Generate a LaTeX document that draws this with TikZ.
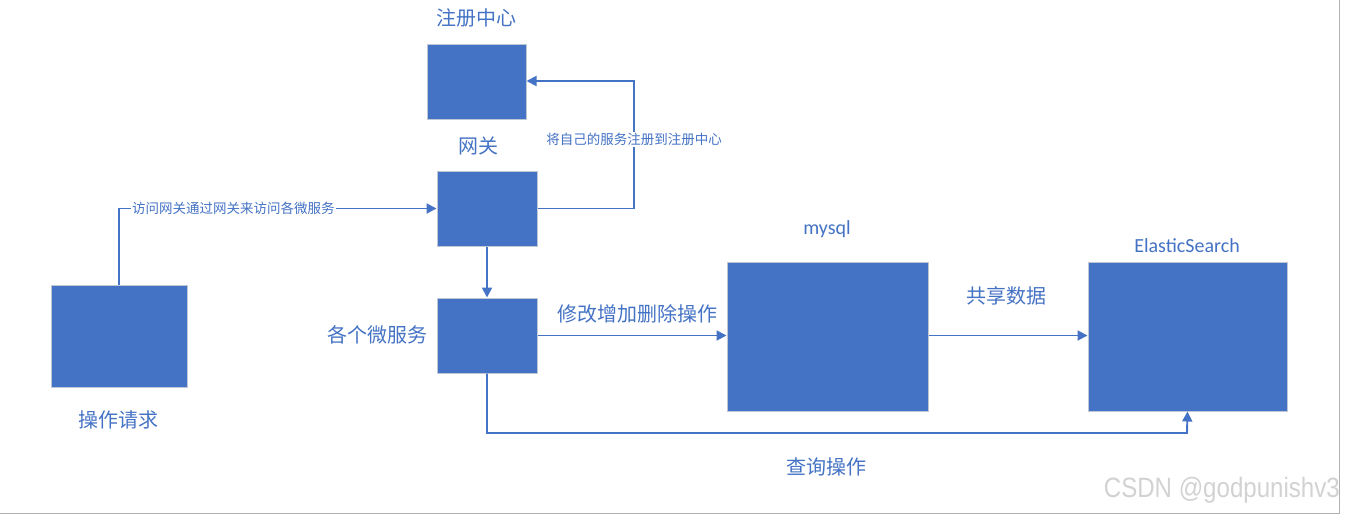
\documentclass[tikz,border=0pt]{standalone}
\usepackage{fontspec}
\setmainfont{Carlito}
\newfontfamily\cjk{Noto Sans CJK SC}
\newfontfamily\wm{Liberation Sans}
\usetikzlibrary{arrows.meta}
\definecolor{blu}{HTML}{4472C4}
\definecolor{edge}{HTML}{BFC7D5}
\begin{document}
\begin{tikzpicture}[x=1pt,y=-1pt,
  box/.style={draw=edge,line width=1pt,fill=blu,inner sep=0pt},
  conn/.style={draw=blu,line width=1.9pt,-{Triangle[length=10pt,width=10pt]}},
  big/.style={text=blu,font=\cjk\fontsize{20}{22}\selectfont,inner sep=0pt},
  lat/.style={text=blu,font=\fontsize{20}{22}\selectfont,inner sep=0pt},
  small/.style={text=blu,font=\cjk\fontsize{13.5}{15}\selectfont,fill=white,inner sep=1.5pt}]
\useasboundingbox (0,0) rectangle (1345,515);
\draw[gray!60,line width=1pt] (1339,0) -- (1339,513) -- (0,513);
% boxes
\node[box,minimum width=136pt,minimum height=102pt] (req) at (119,336) {};
\node[box,minimum width=99pt,minimum height=75pt] (reg) at (476.5,81.5) {};
\node[box,minimum width=100pt,minimum height=75pt] (gw) at (487,208.5) {};
\node[box,minimum width=100pt,minimum height=75pt] (ms) at (487,335.5) {};
\node[box,minimum width=201pt,minimum height=149pt] (db) at (827.5,336.5) {};
\node[box,minimum width=199pt,minimum height=149pt] (es) at (1187.5,336.5) {};
% labels
\node[big] (lreq) at (118,420) {操作请求};
\node[big] (lreg) at (476,18) {注册中心};
\node[big] (lgw) at (478,146) {网关};
\node[big] (lms) at (377,335) {各个微服务};
\node[lat] (ldb) at (827,229) {mysql};
\node[lat] (les) at (1187,246) {ElasticSearch};
% connectors
\coordinate (c1) at (req.north |- gw.west);
\draw[conn] (req.north) -- (c1) -- node[small,pos=0.36] (t1) {访问网关通过网关来访问各微服务} (gw.west);
\coordinate (c2) at (634,208.5);
\coordinate (c3) at (634,81);
\draw[conn] (gw.east) -- (c2) -- node[small,pos=0.54] (t2) {将自己的服务注册到注册中心} (c3) -- (reg.east |- c3);
\draw[conn] (gw.south) -- (ms.north);
\draw[conn] (ms.east) -- (db.west |- ms.east);
\node[big] (t3) at (637,314) {修改增加删除操作};
\draw[conn] (db.east |- ms.east) -- (es.west |- ms.east);
\node[big] (t4) at (1006,296) {共享数据};
\coordinate (c4) at (487,433);
\coordinate (c5) at (1187,433);
\draw[conn] (ms.south) -- (c4) -- (c5) -- (es.south);
\node[big] (t5) at (826,467) {查询操作};
\node[text=gray!35,font=\wm\fontsize{28}{30}\selectfont,inner sep=0pt,anchor=east,xscale=0.86] (wmk) at (1340,490) {CSDN @godpunishv3};
\end{tikzpicture}
\end{document}
